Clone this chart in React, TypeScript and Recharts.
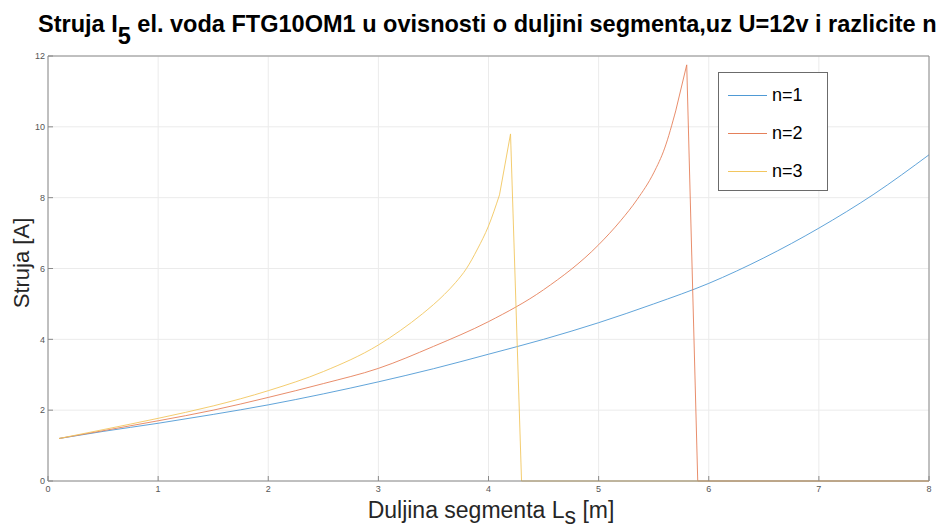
import { LineChart, Line, XAxis, YAxis, CartesianGrid } from "recharts";

// n=1
const duljinaN1 = [0.1, 0.5, 1, 1.5, 2, 2.5, 3, 3.5, 4, 4.5, 5, 5.5, 6, 6.5, 7, 7.5, 8];
const strujaN1 = [1.2, 1.4, 1.63, 1.88, 2.15, 2.46, 2.8, 3.17, 3.58, 4.0, 4.47, 5.0, 5.58, 6.3, 7.14, 8.1, 9.21];

// n=2 (glatki dio pa vrh)
const duljinaN2 = [0.1, 0.5, 1, 1.5, 2, 2.5, 3, 3.5, 4, 4.5, 5, 5.2, 5.35, 5.5, 5.6, 5.7];
const strujaN2 = [1.2, 1.42, 1.7, 2.0, 2.36, 2.75, 3.18, 3.8, 4.5, 5.4, 6.67, 7.35, 7.95, 8.7, 9.4, 10.45];
const duljinaN2Vrh = [5.7, 5.8, 5.9, 8];
const strujaN2Vrh = [10.45, 11.75, 0, 0];

// n=3
const duljinaN3 = [0.1, 0.5, 1, 1.5, 2, 2.5, 3, 3.2, 3.4, 3.6, 3.7, 3.8, 3.9, 4.0, 4.1];
const strujaN3 = [1.2, 1.45, 1.77, 2.12, 2.55, 3.09, 3.84, 4.25, 4.72, 5.27, 5.6, 6.0, 6.55, 7.2, 8.08];
const duljinaN3Vrh = [4.1, 4.2, 4.3, 8];
const strujaN3Vrh = [8.08, 9.8, 0, 0];

const xTicks = [0, 1, 2, 3, 4, 5, 6, 7, 8];
const yTicks = [0, 2, 4, 6, 8, 10, 12];

const BOJE = { n1: "#4f9ad5", n2: "#e5805a", n3: "#f2c65f" };
const legenda = [
  { naziv: "n=1", boja: BOJE.n1 },
  { naziv: "n=2", boja: BOJE.n2 },
  { naziv: "n=3", boja: BOJE.n3 },
];

const toPts = (xs: number[], ys: number[]) => xs.map((x, i) => ({ x, y: ys[i] }));

const FONT = "'Liberation Sans', Arial, Helvetica, sans-serif";
const AXIS = "#8a8a8a";
const tickStyle = { fontSize: 9, fill: "#555", fontFamily: FONT };
const SW = 0.9;

export default function App() {
  return (
    <div style={{ position: "absolute", left: 0, top: 0, width: 942, height: 529, background: "#fff", fontFamily: FONT, overflow: "hidden" }}>
      <LineChart width={942} height={529} margin={{ top: 55, right: 12, left: 8, bottom: 18 }}>
        <CartesianGrid stroke="#ebebeb" strokeWidth={1} />
        <XAxis
          dataKey="x"
          type="number"
          domain={[0, 8]}
          ticks={xTicks}
          height={30}
          tickSize={-5}
          tickMargin={10}
          stroke={AXIS}
          tick={tickStyle}
          allowDuplicatedCategory={false}
        />
        <XAxis
          xAxisId="top"
          orientation="top"
          type="number"
          domain={[0, 8]}
          ticks={xTicks}
          height={1}
          tickSize={-5}
          stroke={AXIS}
          tickFormatter={() => ""}
        />
        <YAxis
          type="number"
          domain={[0, 12]}
          ticks={yTicks}
          width={40}
          tickSize={-5}
          tickMargin={8}
          stroke={AXIS}
          tick={tickStyle}
        />
        <YAxis
          yAxisId="right"
          orientation="right"
          type="number"
          domain={[0, 12]}
          ticks={yTicks}
          width={1}
          tickSize={-5}
          stroke={AXIS}
          tickFormatter={() => ""}
        />
        <Line data={toPts(duljinaN1, strujaN1)} dataKey="y" type="monotone" stroke={BOJE.n1} strokeWidth={SW} dot={false} isAnimationActive={false} />
        <Line data={toPts(duljinaN2, strujaN2)} dataKey="y" type="monotone" stroke={BOJE.n2} strokeWidth={SW} dot={false} isAnimationActive={false} />
        <Line data={toPts(duljinaN2Vrh, strujaN2Vrh)} dataKey="y" type="linear" stroke={BOJE.n2} strokeWidth={SW} dot={false} isAnimationActive={false} />
        <Line data={toPts(duljinaN3, strujaN3)} dataKey="y" type="monotone" stroke={BOJE.n3} strokeWidth={SW} dot={false} isAnimationActive={false} />
        <Line data={toPts(duljinaN3Vrh, strujaN3Vrh)} dataKey="y" type="linear" stroke={BOJE.n3} strokeWidth={SW} dot={false} isAnimationActive={false} />
      </LineChart>

      <div
        style={{
          position: "absolute",
          left: 38,
          top: 10,
          fontSize: 24,
          fontWeight: "bold",
          color: "#000",
          whiteSpace: "nowrap",
          transform: "scaleX(0.98)",
          transformOrigin: "left top",
        }}
      >
        Struja I<sub style={{ fontSize: 24, verticalAlign: -12, lineHeight: 0 }}>5</sub> el. voda FTG10OM1 u ovisnosti o duljini segmenta,uz U=12v i razlicite n
      </div>

      <div
        style={{
          position: "absolute",
          left: 22,
          top: 263,
          fontSize: 22,
          color: "#262626",
          whiteSpace: "nowrap",
          transform: "translate(-50%, -50%) rotate(-90deg)",
        }}
      >
        Struja [A]
      </div>

      <div style={{ position: "absolute", left: 491, top: 497, fontSize: 23, color: "#262626", whiteSpace: "nowrap", transform: "translateX(-50%)", lineHeight: "26px" }}>
        Duljina segmenta L<sub style={{ fontSize: 23, verticalAlign: -6, lineHeight: 0 }}>s</sub> [m]
      </div>

      <div
        style={{
          position: "absolute",
          left: 718,
          top: 72,
          width: 110,
          height: 119,
          boxSizing: "border-box",
          border: "1px solid #6b6b6b",
          background: "#fff",
        }}
      >
        {legenda.map((l, i) => (
          <div key={l.naziv} style={{ position: "absolute", left: 9, top: 12 + i * 38, display: "flex", alignItems: "center", fontSize: 18, color: "#000" }}>
            <span style={{ display: "inline-block", width: 39, height: 1, background: l.boja, marginRight: 5 }} />
            <span>{l.naziv}</span>
          </div>
        ))}
      </div>
    </div>
  );
}
